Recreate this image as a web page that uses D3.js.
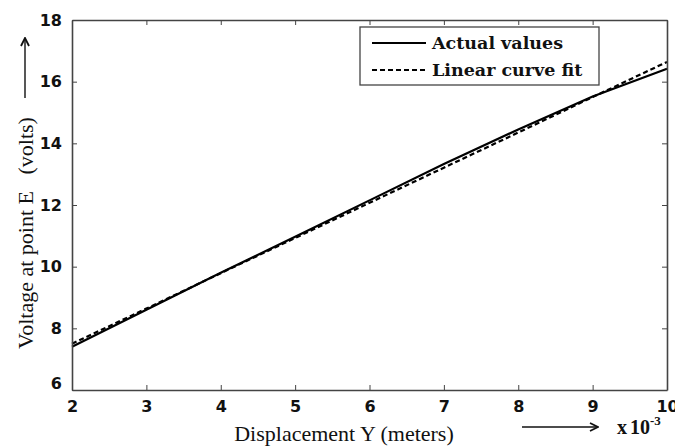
<!DOCTYPE html>
<html>
<head>
<meta charset="utf-8">
<script src="https://cdn.jsdelivr.net/npm/d3@7/dist/d3.min.js"></script>
<style>
  html, body { margin: 0; padding: 0; background: #fff; }
  svg { display: block; }
</style>
</head>
<body>
<svg id="chart" width="675" height="448"></svg>
<script>
// Displacement (x 10^-3 m) and measured voltage at point E
const displacement = [2, 3, 4, 5, 6, 7, 8, 9, 10];
const actualVoltage = [7.4, 8.6, 9.8, 10.97, 12.15, 13.33, 14.45, 15.52, 16.42];
const fitVoltage = [7.50, 8.64, 9.79, 10.93, 12.07, 13.21, 14.35, 15.50, 16.64];
const xTicks = [2, 3, 4, 5, 6, 7, 8, 9, 10];
const yTicks = [6, 8, 10, 12, 14, 16, 18];
const legendLabels = ["Actual values", "Linear curve fit"];

const svg = d3.select("#chart");
const margin = { left: 72, top: 20, right: 8, bottom: 58 };
const W = 675, H = 448;
const x0 = margin.left, x1 = W - margin.right;
const y0 = H - margin.bottom, y1 = margin.top;

const x = d3.scaleLinear().domain([2, 10]).range([x0, x1]);
const y = d3.scaleLinear().domain([6, 18]).range([y0, y1]);

const axisColor = "#444";
const tickFont = "'DejaVu Sans', Verdana, sans-serif";
const serif = "'Liberation Serif', 'Times New Roman', serif";

// Data lines
const line = d3.line().x((d, i) => x(displacement[i])).y(d => y(d));

svg.append("path")
  .datum(actualVoltage)
  .attr("d", line)
  .attr("fill", "none")
  .attr("stroke", "#000")
  .attr("stroke-width", 2.2);

svg.append("path")
  .datum(fitVoltage)
  .attr("d", line)
  .attr("fill", "none")
  .attr("stroke", "#000")
  .attr("stroke-width", 2.2)
  .attr("stroke-dasharray", "5,3");

// Axes with inward ticks on all four sides (box style)
const tickLen = 5;
const axisBottomG = svg.append("g").attr("transform", `translate(0,${y0})`)
  .call(d3.axisBottom(x).tickValues(xTicks).tickSizeInner(-tickLen).tickSizeOuter(0).tickPadding(11).tickFormat(d3.format("d")));
const axisTopG = svg.append("g").attr("transform", `translate(0,${y1})`)
  .call(d3.axisTop(x).tickValues(xTicks).tickSizeInner(-tickLen).tickSizeOuter(0).tickFormat(""));
const axisLeftG = svg.append("g").attr("transform", `translate(${x0},0)`)
  .call(d3.axisLeft(y).tickValues(yTicks).tickSizeInner(-tickLen).tickSizeOuter(0).tickPadding(10).tickFormat(d3.format("d")));
const axisRightG = svg.append("g").attr("transform", `translate(${x1},0)`)
  .call(d3.axisRight(y).tickValues(yTicks).tickSizeInner(-tickLen).tickSizeOuter(0).tickFormat(""));

[axisBottomG, axisTopG, axisLeftG, axisRightG].forEach(g => {
  g.select(".domain").attr("stroke", axisColor).attr("stroke-width", 1.6);
  g.selectAll(".tick line").attr("stroke", axisColor).attr("stroke-width", 1);
  g.selectAll(".tick text")
    .attr("fill", "#111")
    .style("font-family", tickFont)
    .style("font-weight", "bold")
    .style("font-size", "16px");
});
// Lift the lowest y label clear of the first x label
axisLeftG.selectAll(".tick text").filter(d => d === 6).attr("dy", "-0.1em");

// Axis titles
svg.append("text")
  .attr("x", 344).attr("y", 441)
  .attr("text-anchor", "middle")
  .style("font-family", serif).style("font-size", "22px").attr("fill", "#111")
  .text("Displacement Y (meters)");

svg.append("text")
  .attr("transform", `translate(33,233) rotate(-90)`)
  .attr("text-anchor", "middle")
  .style("font-family", serif).style("font-size", "22px").attr("fill", "#111")
  .style("white-space", "pre")
  .text("Voltage at point E   (volts)");

// Direction arrows
const defs = svg.append("defs");
defs.append("marker")
  .attr("id", "arrow").attr("viewBox", "0 0 10 10")
  .attr("refX", 9).attr("refY", 5)
  .attr("markerWidth", 10).attr("markerHeight", 10)
  .attr("markerUnits", "userSpaceOnUse")
  .attr("orient", "auto")
  .append("path").attr("d", "M1,1 L9,5 L1,9")
  .attr("fill", "none").attr("stroke", "#111").attr("stroke-width", 1.8);

svg.append("line")
  .attr("x1", 25).attr("y1", 98).attr("x2", 25).attr("y2", 38)
  .attr("stroke", "#111").attr("stroke-width", 1.4)
  .attr("marker-end", "url(#arrow)");

svg.append("line")
  .attr("x1", 522).attr("y1", 427).attr("x2", 598).attr("y2", 427)
  .attr("stroke", "#111").attr("stroke-width", 1.4)
  .attr("marker-end", "url(#arrow)");

// Exponent note
const expo = svg.append("text")
  .attr("x", 617).attr("y", 434)
  .style("font-family", serif).style("font-size", "20px").style("font-weight", "bold")
  .attr("fill", "#111");
expo.append("tspan").text("x");
expo.append("tspan").attr("dx", 3).text("10");
expo.append("tspan").attr("dy", -9).style("font-size", "13px").text("-3");

// Legend
const legend = svg.append("g");
legend.append("rect")
  .attr("x", 360).attr("y", 27).attr("width", 239).attr("height", 58)
  .attr("fill", "#fff").attr("stroke", axisColor).attr("stroke-width", 1.3);

const legendY = [43, 70];
legendLabels.forEach((label, i) => {
  legend.append("line")
    .attr("x1", 372).attr("x2", 426)
    .attr("y1", legendY[i]).attr("y2", legendY[i])
    .attr("stroke", "#000").attr("stroke-width", 2)
    .attr("stroke-dasharray", i === 1 ? "5,3" : null);
  legend.append("text")
    .attr("x", 432).attr("y", legendY[i]).attr("dy", "0.35em")
    .style("font-family", "'DejaVu Serif', serif").style("font-size", "17.5px").style("font-weight", "bold")
    .attr("fill", "#111")
    .text(label);
});
</script>
</body>
</html>
